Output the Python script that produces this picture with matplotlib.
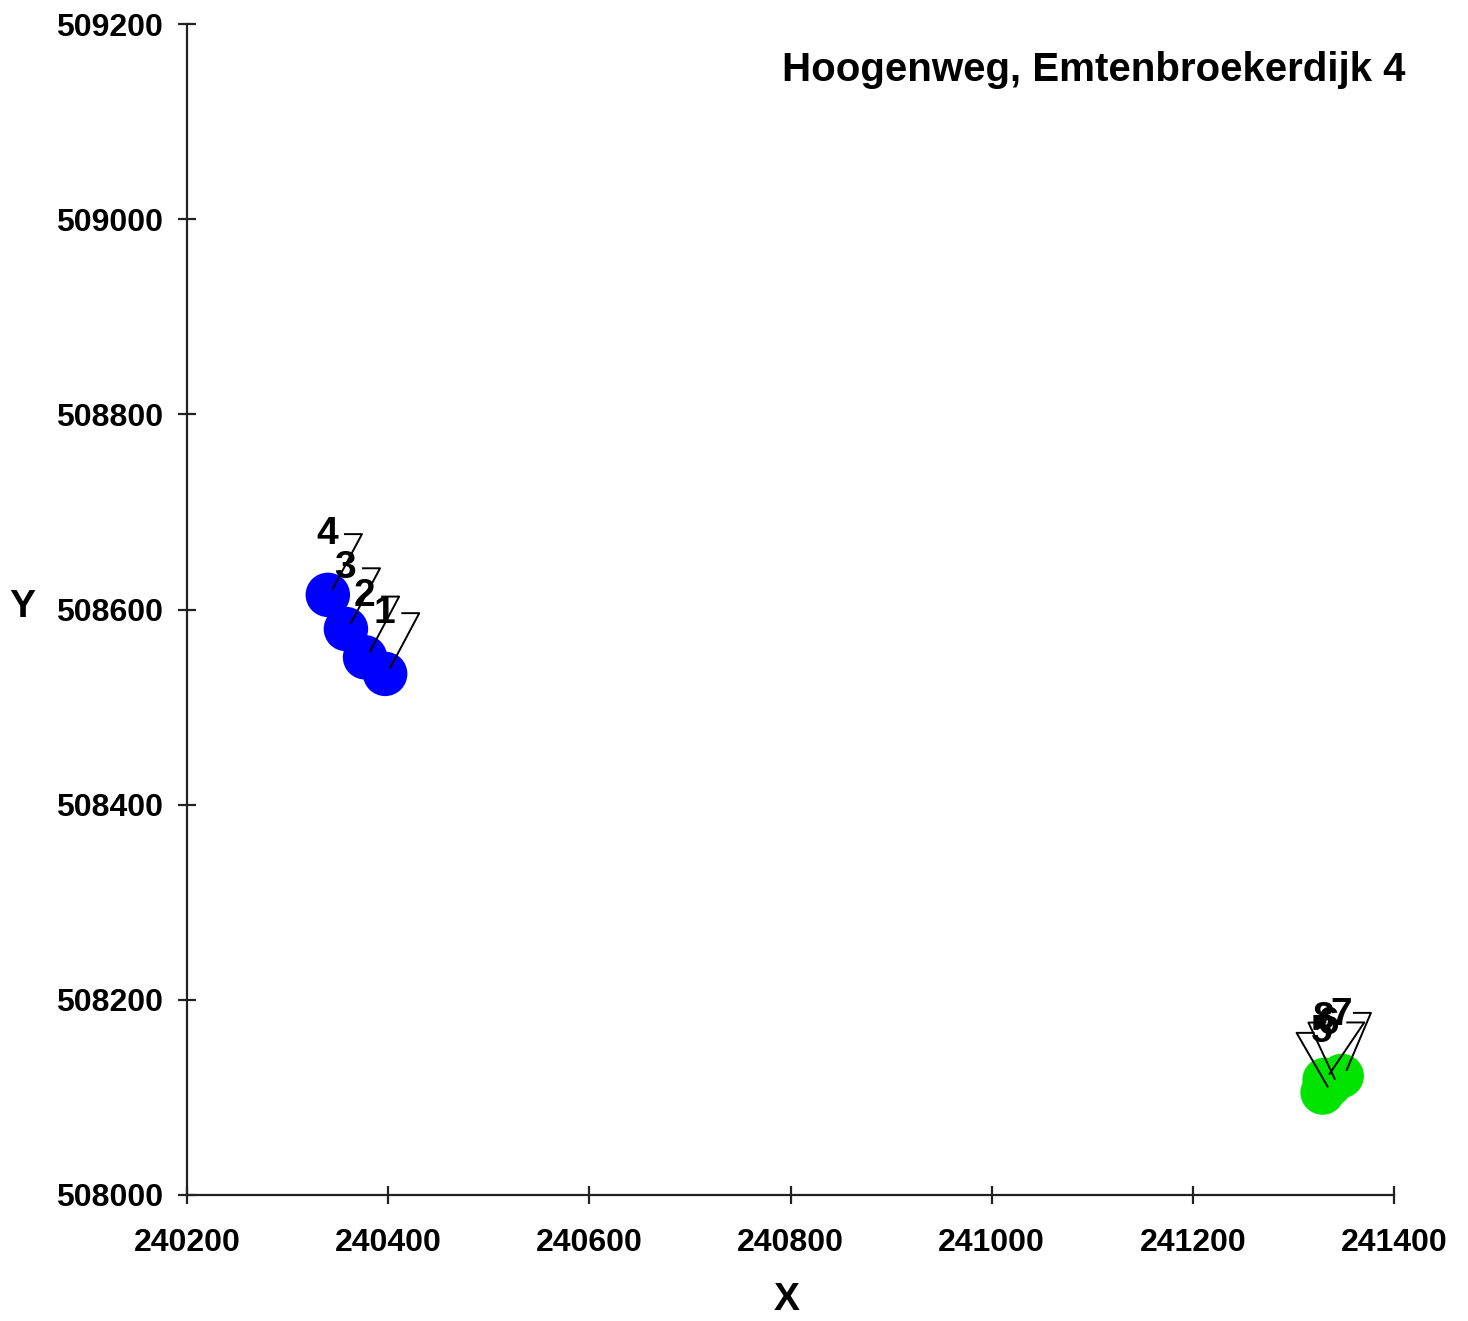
import numpy as np
import matplotlib
matplotlib.use("Agg")
import matplotlib.pyplot as plt
import matplotlib.transforms as mtransforms

plt.rcParams['font.family'] = ['Liberation Sans', 'DejaVu Sans']

# ---- data ----
labels = ["1", "2", "3", "4", "5", "6", "7", "8"]
x_vals = [240397, 240377, 240358, 240340, 241329, 241336, 241348, 241331]
y_vals = [508534, 508551, 508580, 508615, 508105, 508113, 508122, 508118]
direction_deg = [28, 28, 28, 28, 330, 335, 23, 34]
groups = ["blue", "blue", "blue", "blue", "green", "green", "green", "green"]
x_ticks = [240200, 240400, 240600, 240800, 241000, 241200, 241400]
y_ticks = [508000, 508200, 508400, 508600, 508800, 509000, 509200]
title = "Hoogenweg, Emtenbroekerdijk 4"

colors = {"blue": "#0000ff", "green": "#00e400"}

W, H = 1468, 1321
DPI = 100
fig = plt.figure(figsize=(W / DPI, H / DPI), dpi=DPI)
ax = fig.add_axes([187 / W, 1 - 1195 / H, (1394 - 187) / W, (1195 - 24) / H])
ax.set_xlim(240200, 241400)
ax.set_ylim(508000, 509200)

for s in ["top", "right"]:
    ax.spines[s].set_visible(False)
for s in ["left", "bottom"]:
    ax.spines[s].set_linewidth(1.6)
    ax.spines[s].set_color("#222222")

ax.set_xticks(x_ticks)
ax.set_yticks(y_ticks)
ax.set_xticklabels([str(t) for t in x_ticks])
ax.set_yticklabels([str(t) for t in y_ticks])
ax.tick_params(axis="both", direction="inout", length=13, width=1.6,
               color="#222222", labelsize=23)
ax.tick_params(axis="y", pad=11)
ax.tick_params(axis="x", pad=17)
for lab in ax.get_xticklabels() + ax.get_yticklabels():
    lab.set_fontweight("bold")

# circles
for g in ["blue", "green"]:
    xs = [x for x, gg in zip(x_vals, groups) if gg == g]
    ys = [y for y, gg in zip(y_vals, groups) if gg == g]
    ax.scatter(xs, ys, s=32 ** 2, color=colors[g], edgecolors="none", zorder=2)

# direction indicators ("7" shaped vanes) and labels
px2pt = 72.0 / DPI
base_off = np.array([5, 6]) * px2pt
shaft = 62 * px2pt
barb = 17 * px2pt
for x, y, d, lab in zip(x_vals, y_vals, direction_deg, labels):
    tr = mtransforms.Affine2D().scale(DPI / 72.0) + \
        mtransforms.ScaledTranslation(x, y, ax.transData)
    a = np.deg2rad(d)
    top = base_off + shaft * np.array([np.sin(a), np.cos(a)])
    bx = top[0] - np.sign(np.sin(a)) * barb
    ax.plot([base_off[0], top[0], bx], [base_off[1], top[1], top[1]],
            color="black", lw=1.4, transform=tr, zorder=3, clip_on=False)
    ax.annotate(lab, (x, y), xytext=(-1 * px2pt, 61 * px2pt),
                textcoords="offset points", ha="center", va="center",
                fontsize=28, fontweight="bold", color="black", zorder=4)

fig.text(1405 / W, 1 - 70 / H, title, ha="right", va="center",
         fontsize=29, fontweight="bold")
fig.text(22 / W, 1 - 607 / H, "Y", ha="center", va="center",
         fontsize=28, fontweight="bold")
fig.text(787 / W, 1 - 1300 / H, "X", ha="center", va="center",
         fontsize=28, fontweight="bold")

fig.savefig("out.png", dpi=DPI, facecolor="white")
